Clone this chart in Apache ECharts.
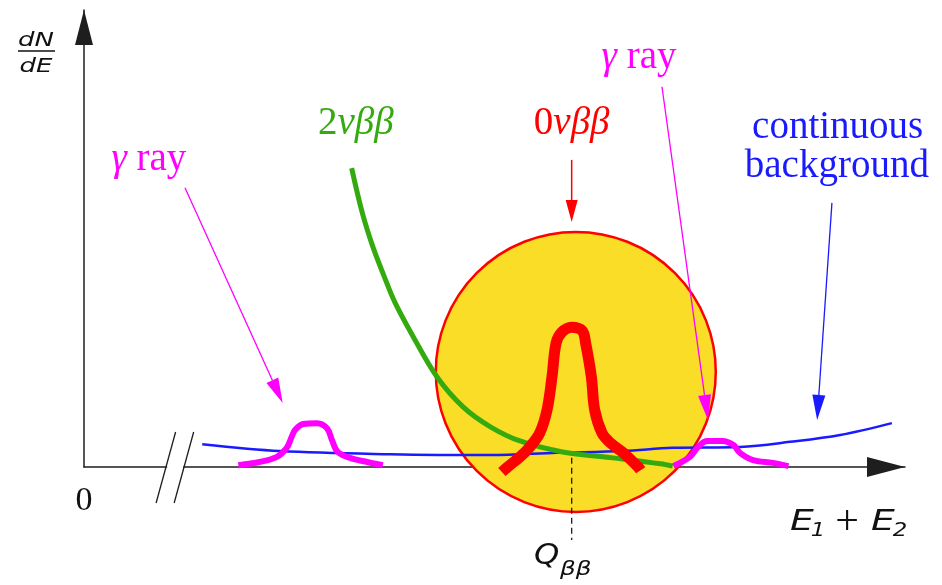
<!DOCTYPE html>
<html>
<head>
<meta charset="utf-8">
<script src="https://cdn.jsdelivr.net/npm/echarts@6/dist/echarts.min.js"></script>
<style>
  html, body { margin: 0; padding: 0; background: #ffffff; }
  #chart { width: 942px; height: 585px; }
</style>
</head>
<body>
<div id="chart"></div>
<script>
// Summed electron energy E1+E2 and spectral density dN/dE, both in arbitrary units.
const xRange = [0, 10];
const yRange = [0, 10];
const qBetaBeta = 5.94;

// 2νββ continuum falling towards the endpoint
const twoNuBB = [
  [3.26, 6.54], [3.39, 5.56], [3.52, 4.81], [3.65, 4.20], [3.79, 3.59],
  [4.01, 2.85], [4.30, 1.97], [4.62, 1.31], [4.95, 0.88], [5.31, 0.57],
  [5.83, 0.33], [6.44, 0.20], [7.02, 0.07], [7.17, 0.02]
];

// 0νββ peak at Qββ
const zeroNuBB = [
  [5.09, -0.11], [5.16, 0.00], [5.31, 0.22], [5.43, 0.44], [5.55, 0.74],
  [5.64, 1.25], [5.70, 1.97], [5.75, 2.71], [5.82, 2.95], [5.94, 3.06],
  [6.07, 2.98], [6.11, 2.71], [6.18, 1.97], [6.22, 1.25], [6.31, 0.74],
  [6.41, 0.53], [6.57, 0.31], [6.75, 0.00], [6.78, -0.07]
];

// flat continuous background
const background = [
  [1.44, 0.50], [2.39, 0.35], [3.73, 0.28], [4.95, 0.26], [5.76, 0.31],
  [6.57, 0.35], [7.17, 0.42], [7.99, 0.44], [8.60, 0.55], [9.21, 0.70],
  [9.84, 0.96]
];

// γ-ray lines
const gammaLow = [
  [1.88, 0.04], [2.14, 0.11], [2.35, 0.22], [2.47, 0.42], [2.53, 0.66],
  [2.57, 0.81], [2.67, 0.94], [2.84, 0.96], [2.96, 0.85], [3.02, 0.59],
  [3.09, 0.33], [3.24, 0.20], [3.45, 0.11], [3.64, 0.04]
];
const gammaHigh = [
  [7.18, 0.02], [7.38, 0.22], [7.48, 0.44], [7.59, 0.57], [7.78, 0.57],
  [7.91, 0.48], [7.99, 0.31], [8.15, 0.15], [8.39, 0.09], [8.58, 0.02]
];

// region of interest around Qββ
const roiCentre = [[5.99, 2.08]];

// pointer arrows: [fromX, fromY, toX, toY]
const gammaArrows = [[1.23, 6.11, 2.42, 1.40], [7.04, 8.32, 7.60, 1.03]];
const zeroNuArrow = [[5.94, 6.72, 5.94, 5.36]];
const backgroundArrow = [[9.11, 5.78, 8.93, 1.03]];

// axis break position on the energy axis
const axisBreak = [[1.00, 1.22]];

const MAGENTA = '#ff00ff';
const GREEN = '#33aa0e';
const RED = '#ff0000';
const BLUE = '#1a1aff';
const YELLOW = '#f9dd26';
const AXIS = '#1e1e1e';
const INK = '#111111';
const SERIF = "'Liberation Serif', 'DejaVu Serif', serif";
const SANS = "'DejaVu Sans', sans-serif";
const SERIF_SIZE = 39;

function arrowRenderer(color, headLen, headWidth, lineWidth) {
  return function (params, api) {
    const p1 = api.coord([api.value(0), api.value(1)]);
    const p2 = api.coord([api.value(2), api.value(3)]);
    const dx = p2[0] - p1[0], dy = p2[1] - p1[1];
    const len = Math.hypot(dx, dy);
    const ux = dx / len, uy = dy / len;
    const bx = p2[0] - ux * headLen, by = p2[1] - uy * headLen;
    const nx = -uy * headWidth / 2, ny = ux * headWidth / 2;
    return {
      type: 'group',
      children: [
        { type: 'line', shape: { x1: p1[0], y1: p1[1], x2: bx, y2: by },
          style: { stroke: color, lineWidth: lineWidth } },
        { type: 'polygon', shape: { points: [[p2[0], p2[1]], [bx + nx, by + ny], [bx - nx, by - ny]] },
          style: { fill: color, stroke: null } }
      ]
    };
  };
}

function breakRenderer(params, api) {
  const a = api.coord([api.value(0), 0]);
  const b = api.coord([api.value(1), 0]);
  const slash = (p) => ({
    type: 'line',
    shape: { x1: p[0] - 10, y1: p[1] + 36, x2: p[0] + 9.5, y2: p[1] - 35 },
    style: { stroke: AXIS, lineWidth: 1.3 }
  });
  return {
    type: 'group',
    children: [
      { type: 'rect', shape: { x: a[0] + 1, y: a[1] - 3, width: b[0] - a[0] - 2, height: 6 },
        style: { fill: '#ffffff' } },
      slash(a),
      slash(b)
    ]
  };
}

function curve(data, color, width, z) {
  return {
    type: 'line', data: data, smooth: 0.35, symbol: 'none', clip: false, z: z,
    lineStyle: { color: color, width: width, cap: 'butt', join: 'round' },
    silent: true
  };
}

const chart = echarts.init(document.getElementById('chart'), null, { renderer: 'canvas' });

chart.setOption({
  animation: false,
  backgroundColor: '#ffffff',
  grid: { left: 84, right: 37, top: 10, bottom: 118, outerBoundsMode: 'none' },
  xAxis: {
    type: 'value', min: xRange[0], max: xRange[1],
    axisLine: {
      show: true, onZero: false,
      symbol: ['none', 'triangle'], symbolSize: [20, 38], symbolOffset: [0, -19],
      lineStyle: { color: AXIS, width: 1.5 }
    },
    axisTick: { show: false }, axisLabel: { show: false }, splitLine: { show: false }
  },
  yAxis: {
    type: 'value', min: yRange[0], max: yRange[1],
    axisLine: {
      show: true, onZero: false,
      symbol: ['none', 'triangle'], symbolSize: [18, 35], symbolOffset: [0, -17.5],
      lineStyle: { color: AXIS, width: 1.5 }
    },
    axisTick: { show: false }, axisLabel: { show: false }, splitLine: { show: false }
  },
  series: [
    {
      type: 'scatter', data: roiCentre, symbol: 'circle', symbolSize: 280, z: 1, silent: true,
      itemStyle: { color: YELLOW, borderColor: RED, borderWidth: 2.5, opacity: 1 }
    },
    {
      type: 'line', data: [[qBetaBeta, 0.2], [qBetaBeta, -1.6]], symbol: 'none', clip: false, z: 2,
      silent: true, lineStyle: { color: AXIS, width: 1.3, type: [6, 4] }
    },
    { type: 'custom', data: axisBreak, renderItem: breakRenderer, z: 3, silent: true },
    curve(background, BLUE, 2.5, 4),
    curve(twoNuBB, GREEN, 5, 5),
    curve(gammaLow, MAGENTA, 6, 6),
    curve(gammaHigh, MAGENTA, 6, 6),
    curve(zeroNuBB, RED, 11, 7),
    { type: 'custom', data: gammaArrows, renderItem: arrowRenderer(MAGENTA, 25, 13, 1.3), z: 8, silent: true },
    { type: 'custom', data: zeroNuArrow, renderItem: arrowRenderer(RED, 22, 12, 1.5), z: 8, silent: true },
    { type: 'custom', data: backgroundArrow, renderItem: arrowRenderer(BLUE, 25, 13, 1.3), z: 8, silent: true }
  ]
});

// Annotations anchored in data units
const toPx = (x, y) => chart.convertToPixel({ gridIndex: 0 }, [x, y]);

function serifLabel(pos, text, rich, color) {
  const p = toPx(pos[0], pos[1]);
  return {
    type: 'text', x: p[0], y: p[1], z: 20, silent: true,
    style: {
      text: text, fill: color, fontFamily: SERIF, fontSize: SERIF_SIZE,
      align: 'center', verticalAlign: 'middle',
      rich: rich
    }
  };
}

function richSerif(color) {
  return {
    i: { fontFamily: SERIF, fontSize: SERIF_SIZE, fontStyle: 'italic', fill: color },
    u: { fontFamily: SERIF, fontSize: SERIF_SIZE, fill: color }
  };
}

function sansText(x, y, text, size, scaleX) {
  return {
    type: 'text', x: x, y: y, scaleX: scaleX || 1, z: 20, silent: true,
    style: {
      text: text, fill: INK, fontFamily: SANS, fontSize: size, fontStyle: 'italic',
      align: 'center', verticalAlign: 'middle'
    }
  };
}

const origin = toPx(0, 0);
const qFoot = toPx(qBetaBeta, 0);
const xEnd = toPx(xRange[1], 0);
const yEnd = toPx(0, yRange[1]);

const graphics = [
  serifLabel([0.79, 6.72], '{i|γ} {u|ray}', richSerif(MAGENTA), MAGENTA),
  serifLabel([6.76, 8.96], '{i|γ} {u|ray}', richSerif(MAGENTA), MAGENTA),
  serifLabel([3.31, 7.52], '{u|2}{i|νββ}', richSerif(GREEN), GREEN),
  serifLabel([5.94, 7.52], '{u|0}{i|νββ}', richSerif(RED), RED),
  serifLabel([9.18, 7.42], 'continuous', null, BLUE),
  serifLabel([9.17, 6.57], 'background', null, BLUE),
  // origin
  {
    type: 'text', x: origin[0], y: origin[1] + 34, z: 20, silent: true,
    style: { text: '0', fill: INK, fontFamily: SERIF, fontSize: 34, align: 'center', verticalAlign: 'middle' }
  },
  // dN/dE
  sansText(yEnd[0] - 48, yEnd[1] + 30.5, 'dN', 20, 1.3),
  {
    type: 'line', z: 20, silent: true,
    shape: { x1: yEnd[0] - 66, y1: yEnd[1] + 41, x2: yEnd[0] - 29, y2: yEnd[1] + 41 },
    style: { stroke: INK, lineWidth: 1.4 }
  },
  sansText(yEnd[0] - 48, yEnd[1] + 57, 'dE', 20, 1.3),
  // Qββ
  sansText(qFoot[0] - 25, qFoot[1] + 90, 'Q', 28, 1.15),
  sansText(qFoot[0] + 4, qFoot[1] + 103, 'ββ', 19, 1.3),
  // E1 + E2
  sansText(xEnd[0] - 103, xEnd[1] + 55, 'E', 29, 1.3),
  sansText(xEnd[0] - 87, xEnd[1] + 64, '1', 19, 1.2),
  {
    type: 'text', x: xEnd[0] - 58, y: xEnd[1] + 56, z: 20, silent: true,
    style: { text: '+', fill: INK, fontFamily: SERIF, fontSize: 42, align: 'center', verticalAlign: 'middle' }
  },
  sansText(xEnd[0] - 22, xEnd[1] + 55, 'E', 29, 1.3),
  sansText(xEnd[0] - 5, xEnd[1] + 64, '2', 19, 1.2)
];

chart.setOption({ graphic: graphics });
</script>
</body>
</html>
